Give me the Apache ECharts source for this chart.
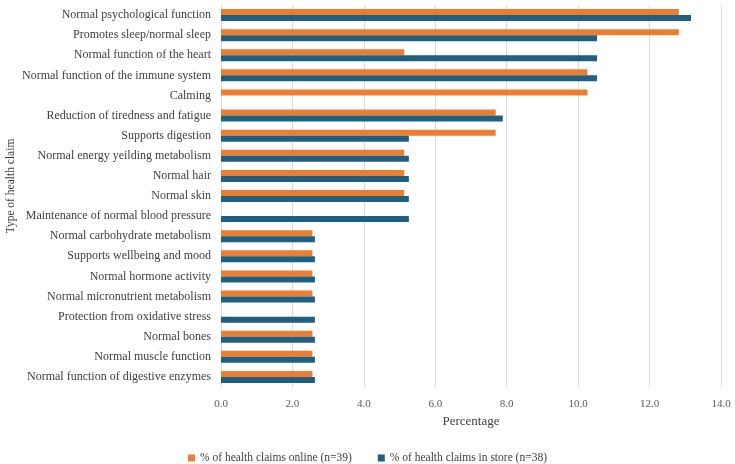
<!DOCTYPE html>
<html><head><meta charset="utf-8">
<script src="https://cdn.jsdelivr.net/npm/echarts@6/dist/echarts.min.js"></script>
<style>html,body{margin:0;padding:0;background:#fff}#c{width:735px;height:464px}</style>
</head><body><div id="c"></div>
<script>
const categories = [
  "Normal psychological function",
  "Promotes sleep/normal sleep",
  "Normal function of the heart",
  "Normal function of the immune system",
  "Calming",
  "Reduction of tiredness and fatigue",
  "Supports digestion",
  "Normal energy yeilding metabolism",
  "Normal hair",
  "Normal skin",
  "Maintenance of normal blood pressure",
  "Normal carbohydrate metabolism",
  "Supports wellbeing and mood",
  "Normal hormone activity",
  "Normal micronutrient metabolism",
  "Protection from oxidative stress",
  "Normal bones",
  "Normal muscle function",
  "Normal function of digestive enzymes"
];
const onlineValues = [12.82,12.82,5.13,10.26,10.26,7.69,7.69,5.13,5.13,5.13,0,2.56,2.56,2.56,2.56,0,2.56,2.56,2.56];
const storeValues  = [13.16,10.53,10.53,10.53,0,7.89,5.26,5.26,5.26,5.26,5.26,2.63,2.63,2.63,2.63,2.63,2.63,2.63,2.63];
const seriesNames = ["% of health claims online (n=39)", "% of health claims in store (n=38)"];

const font = "'Liberation Serif', serif";
const chart = echarts.init(document.getElementById('c'));
chart.setOption({
  animation: false,
  textStyle: {fontFamily: font},
  grid: {left: 221, right: 14, top: 5, bottom: 77, containLabel: false, outerBoundsMode: 'none'},
  legend: {
    top: 447, left: 'center', itemWidth: 7, itemHeight: 7, itemGap: 26,
    icon: 'rect',
    textStyle: {fontFamily: font, fontSize: 11.5, color: '#404040'},
    data: seriesNames
  },
  xAxis: {
    type: 'value', min: 0, max: 14, interval: 2,
    name: 'Percentage', nameLocation: 'middle', nameGap: 28,
    nameTextStyle: {fontFamily: font, fontSize: 13, color: '#404040'},
    axisLabel: {formatter: v => v.toFixed(1), fontFamily: font, fontSize: 11, color: '#595959', margin: 12},
    axisLine: {show: false}, axisTick: {show: false},
    splitLine: {lineStyle: {color: '#d9d9d9'}}
  },
  yAxis: {
    type: 'category', data: categories, inverse: true,
    name: 'Type of health claim', nameLocation: 'middle', nameGap: 204, nameRotate: 90,
    nameMoveOverlap: false,
    nameTextStyle: {fontFamily: font, fontSize: 11.5, color: '#404040', padding: [0, 0, 0, 20]},
    axisLabel: {fontFamily: font, fontSize: 12, color: '#404040', margin: 10},
    axisLine: {show: false}, axisTick: {show: false}
  },
  series: [
    {name: seriesNames[0], type: 'bar', data: onlineValues, barWidth: 6, barGap: '0%', itemStyle: {color: '#ED7D31'}},
    {name: seriesNames[1], type: 'bar', data: storeValues, barWidth: 6, barGap: '0%', itemStyle: {color: '#1F5F7F'}}
  ]
});
</script></body></html>
